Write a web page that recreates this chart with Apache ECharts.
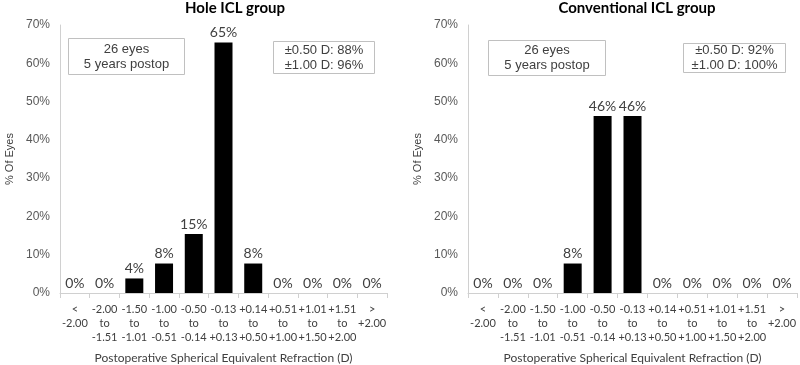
<!DOCTYPE html>
<html>
<head>
<meta charset="utf-8">
<script src="https://cdn.jsdelivr.net/npm/echarts@6/dist/echarts.min.js"></script>
<style>
  html, body { margin: 0; padding: 0; background: #fff; }
  #chart { width: 800px; height: 365px; }
</style>
</head>
<body>
<div id="chart"></div>
<script>
// refraction bins (D)
const categories = [
  '<\n-2.00', '-2.00\nto\n-1.51', '-1.50\nto\n-1.01', '-1.00\nto\n-0.51',
  '-0.50\nto\n-0.14', '-0.13\nto\n+0.13', '+0.14\nto\n+0.50', '+0.51\nto\n+1.00',
  '+1.01\nto\n+1.50', '+1.51\nto\n+2.00', '>\n+2.00'
];
// % of eyes, 26 eyes each group
const holeValues = [0, 0, 3.8, 7.7, 15.4, 65.4, 7.7, 0, 0, 0, 0];
const convValues = [0, 0, 0, 7.7, 46.2, 46.2, 0, 0, 0, 0, 0];
const yTicks = [0, 10, 20, 30, 40, 50, 60, 70];
const titles = ['Hole ICL group', 'Conventional ICL group'];
const infoText = '26 eyes\n5 years postop';
const accuracyText = ['±0.50 D: 88%\n±1.00 D: 96%', '±0.50 D: 92%\n±1.00 D: 100%'];

const calibri = 'Lato, "Open Sans", sans-serif';
const arial = '"Liberation Sans", Arial, sans-serif';
const grey = '#404040';

const chart = echarts.init(document.getElementById('chart'));

const grids = [
  { left: 60, right: 413, top: 25, bottom: 72, outerBoundsMode: 'none' },
  { left: 468, right: 3, top: 25, bottom: 72, outerBoundsMode: 'none' }
];

function xAxis(i) {
  return {
    type: 'category',
    gridIndex: i,
    data: categories,
    name: 'Postoperative Spherical Equivalent Refraction (D)',
    nameLocation: 'middle',
    nameGap: 59,
    nameTextStyle: { color: grey, fontFamily: calibri, fontSize: 12 },
    axisLine: { lineStyle: { color: '#d0d0d0' } },
    axisTick: { show: true, length: 5, lineStyle: { color: '#d0d0d0' } },
    axisLabel: {
      interval: 0, color: grey, fontFamily: calibri, fontSize: 11,
      lineHeight: 14, margin: 9
    }
  };
}

function yAxis(i) {
  return {
    type: 'value',
    gridIndex: i,
    min: yTicks[0],
    max: yTicks[yTicks.length - 1],
    interval: 10,
    name: '% Of Eyes',
    nameLocation: 'middle',
    nameGap: 45,
    nameTextStyle: { color: grey, fontFamily: arial, fontSize: 11 },
    axisLine: { show: true, lineStyle: { color: '#d0d0d0' } },
    axisTick: { show: false },
    splitLine: { show: false },
    axisLabel: {
      color: '#595959', fontFamily: arial, fontSize: 12, margin: 10,
      formatter: v => v + '%'
    }
  };
}

function series(i, values) {
  return {
    type: 'bar',
    xAxisIndex: i,
    yAxisIndex: i,
    data: values,
    barWidth: 18,
    itemStyle: { color: '#000' },
    label: {
      show: true,
      position: 'top',
      distance: 3,
      color: grey,
      fontFamily: calibri,
      fontSize: 14,
      formatter: p => Math.round(p.value) + '%'
    }
  };
}

function box(x, y, w, h, text) {
  return {
    type: 'group',
    left: x,
    top: y,
    children: [
      { type: 'rect', shape: { x: 0, y: 0, width: w, height: h },
        style: { fill: '#fff', stroke: '#c0c0c0', lineWidth: 1 } },
      { type: 'text', x: w / 2, y: h / 2,
        style: { text: text, fill: grey, font: '13px ' + arial, lineHeight: 15,
                 align: 'center', verticalAlign: 'middle' } }
    ]
  };
}

chart.setOption({
  animation: false,
  backgroundColor: '#fff',
  title: [
    { text: titles[0], left: 230, textAlign: 'center', top: 0, padding: [1, 5],
      textStyle: { fontFamily: calibri, fontSize: 15, fontWeight: 'bold', color: '#000' } },
    { text: titles[1], left: 632, textAlign: 'center', top: 0, padding: [1, 5],
      textStyle: { fontFamily: calibri, fontSize: 15, fontWeight: 'bold', color: '#000' } }
  ],
  grid: grids,
  xAxis: [xAxis(0), xAxis(1)],
  yAxis: [yAxis(0), yAxis(1)],
  series: [series(0, holeValues), series(1, convValues)],
  graphic: [
    box(68, 38, 116, 36, infoText),
    box(273, 41, 101, 32, accuracyText[0]),
    box(488, 40, 117, 35, infoText),
    box(683, 43, 102, 29, accuracyText[1])
  ]
});
</script>
</body>
</html>
